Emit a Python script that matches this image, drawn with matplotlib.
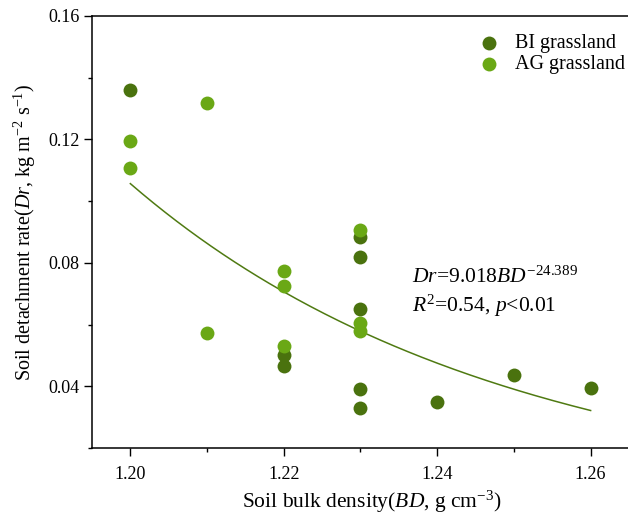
import numpy as np
import matplotlib
matplotlib.use('Agg')
import matplotlib.pyplot as plt
from matplotlib.ticker import MultipleLocator

plt.rcParams['font.family'] = ['Liberation Serif', 'DejaVu Serif']
plt.rcParams['mathtext.fontset'] = 'custom'
plt.rcParams['mathtext.rm'] = 'Liberation Serif'
plt.rcParams['mathtext.it'] = 'Liberation Serif:italic'

# BI grassland samples (bulk density, detachment rate)
bi_bd = [1.20, 1.22, 1.22, 1.23, 1.23, 1.23, 1.23, 1.23, 1.24, 1.25, 1.26]
bi_dr = [0.1360, 0.0502, 0.0467, 0.0884, 0.0819, 0.0650, 0.0392, 0.0330, 0.0348, 0.0435, 0.0394]

# AG grassland samples
ag_bd = [1.20, 1.20, 1.21, 1.21, 1.22, 1.22, 1.22, 1.23, 1.23, 1.23]
ag_dr = [0.1194, 0.1106, 0.1317, 0.0573, 0.0775, 0.0725, 0.0529, 0.0905, 0.0605, 0.0580]

# power fit Dr = a * BD^b
fit_a = 9.018
fit_b = -24.389
fit_range = (1.20, 1.26)

dark = '#4a720e'
light = '#6aa815'

fig = plt.figure(figsize=(6.28, 5.16), dpi=100)
ax = fig.add_axes([0.1465, 0.1318, 0.8917, 0.8372])

ax.scatter(bi_bd, bi_dr, s=100, color=dark, linewidths=0, label='BI grassland', zorder=3)
ax.scatter(ag_bd, ag_dr, s=100, color=light, linewidths=0, label='AG grassland', zorder=4)

xs = np.linspace(fit_range[0], fit_range[1], 200)
ax.plot(xs, fit_a * xs ** fit_b, color='#4f7a12', lw=1.1, zorder=2)

ax.set_xlim(1.195, 1.268)
ax.set_ylim(0.02, 0.16)
ax.xaxis.set_minor_locator(MultipleLocator(0.01))
ax.yaxis.set_minor_locator(MultipleLocator(0.02))
ax.set_xticks([1.20, 1.22, 1.24, 1.26])
ax.set_xticklabels(['1.20', '1.22', '1.24', '1.26'])
ax.set_yticks([0.04, 0.08, 0.12, 0.16])
ax.set_yticklabels(['0.04', '0.08', '0.12', '0.16'])

ax.tick_params(which='major', direction='out', length=6, width=1, labelsize=13)
ax.tick_params(which='minor', direction='out', length=3, width=1)
ax.tick_params(axis='x', which='major', pad=7)
ax.tick_params(axis='y', which='major', pad=3)
ax.tick_params(axis='x', which='both', top=False)
ax.tick_params(axis='y', which='both', right=False)
for sp in ax.spines.values():
    sp.set_linewidth(1.1)

ax.set_xlabel('Soil bulk density($\\mathit{BD}$, g cm$^{-3}$)', fontsize=15.5, labelpad=4)
ax.set_ylabel('Soil detachment rate($\\mathit{Dr}$, kg m$^{-2}$ s$^{-1}$)', fontsize=14.5, labelpad=7)

ax.text(1.2367, 0.0736, '$\\mathit{Dr}$=9.018$\\mathit{BD}^{-24.389}$', fontsize=15.5, va='baseline')
ax.text(1.2367, 0.0640, '$\\mathit{R}^{2}$=0.54, $\\mathit{p}$<0.01', fontsize=15.5, va='baseline')

ax.legend(loc='upper left', bbox_to_anchor=(480 / 628, 1 - 34 / 516), bbox_transform=fig.transFigure,
          frameon=False, fontsize=14.5, handlelength=0.9, handletextpad=0.85, borderpad=0,
          borderaxespad=0, labelspacing=0.08, scatterpoints=1)

fig.savefig('out.png', dpi=100)
